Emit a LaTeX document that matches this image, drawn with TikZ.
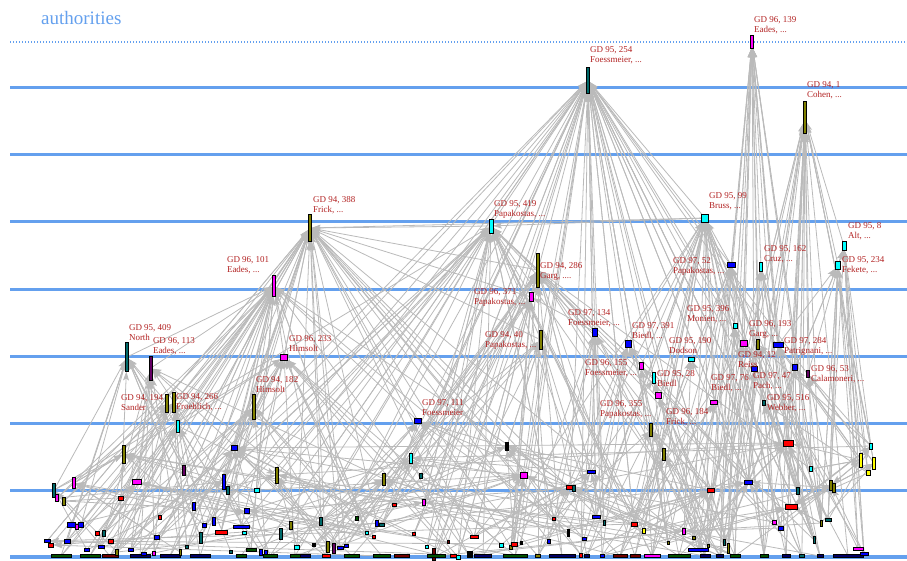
\documentclass[tikz,border=0pt]{standalone}
\usepackage{fontspec}
\setmainfont{Liberation Serif}
\usetikzlibrary{arrows.meta}
\pgfdeclarelayer{lines}
\pgfdeclarelayer{edges}
\pgfsetlayers{lines,edges,main}
\definecolor{mag}{RGB}{255,0,255}
\definecolor{cyn}{RGB}{0,255,255}
\definecolor{blu}{RGB}{0,0,255}
\definecolor{rd}{RGB}{255,0,0}
\definecolor{olv}{RGB}{128,128,0}
\definecolor{tel}{RGB}{0,105,105}
\definecolor{prp}{RGB}{100,0,100}
\definecolor{ylw}{RGB}{255,255,0}
\definecolor{dgr}{RGB}{0,80,0}
\definecolor{drd}{RGB}{110,0,0}
\definecolor{nav}{RGB}{0,0,100}
\definecolor{blk}{RGB}{0,0,0}
\definecolor{edgegray}{RGB}{186,186,186}
\definecolor{layerblue}{RGB}{100,160,238}
\definecolor{lblred}{RGB}{178,34,34}
\tikzset{
  nd/.style={draw=black,line width=0.6pt,inner sep=0pt,outer sep=0pt},
  edge/.style={draw=edgegray,line width=0.8pt,-{Stealth[length=9pt,width=6pt,inset=2pt]}},
  lbl/.style={anchor=north west,inner sep=0pt,outer sep=0pt,align=left,text=lblred,font=\fontsize{9}{10}\selectfont},
  layerline/.style={draw=layerblue,line width=3pt},
}
\newcommand\edgefan[5]{\foreach \k in {1,...,#3}{\pgfmathrandominteger{\rr}{#4}{#5}\draw[edge] (#2\rr) -- (#1);}}
\begin{document}
\begin{tikzpicture}[x=1pt,y=-1pt]
\useasboundingbox (0,0) rectangle (907,561);
\begin{pgfonlayer}{lines}
  \draw[layerline,line width=2pt,dash pattern=on 1.2pt off 1.8pt] (10,42) -- (907,42);
  \foreach \ly in {88,155,222,289,356,423,490} \draw[layerline] (10,\ly) -- (907,\ly);
  \draw[layerline,line width=4pt] (10,557) -- (907,557);
\end{pgfonlayer}
\node[anchor=base west,inner sep=0pt,text=layerblue,font=\fontsize{19}{22}\selectfont] (title) at (41,25) {authorities};

% labelled (authority) nodes
\foreach \nm/\px/\py/\pw/\ph/\pc in {
 a1/752/42/3/13/mag, a2/588/80/3/26/tel, a3/805/117/3/32/olv, a4/310/228/3/27/olv,
 a5/491/226/4/14/cyn, a6/705/218/7/8/cyn, a7/538/270/3/34/olv, a8/274/286/3/21/mag,
 a9/731/265/8/5/blu, a10/761/267/3/9/cyn, a11/844/246/4/9/cyn, a12/838/265/5/8/cyn,
 a13/531/297/4/9/mag, a14/595/332/5/8/blu, a15/541/340/3/19/olv, a16/628/344/6/7/blu,
 a17/735/326/4/5/cyn, a18/691/359/6/4/cyn, a19/758/344/3/10/olv, a20/744/343/7/6/mag,
 a21/778/345/10/5/blu, a22/127/357/3/29/tel, a23/151/368/3/24/prp, a24/284/357/7/6/mag,
 a25/641/366/4/7/mag, a26/654/378/3/11/cyn, a27/754/369/6/5/blu, a28/808/374/3/7/prp,
 a29/714/402/7/4/mag, a30/254/407/3/25/olv, a31/167/403/3/18/olv, a32/174/402/3/20/olv,
 a33/764/403/3/5/tel, a34/664/454/3/12/olv, a35/651/430/3/13/olv, a36/418/421/7/5/blu,
 x1/658/395/6/6/mag, x2/795/367/5/6/blu}
 \node[nd,fill=\pc,minimum width=\pw pt,minimum height=\ph pt] (\nm) at (\px,\py) {};

% other nodes, grouped by position
\foreach \px/\py/\pw/\ph/\pc [count=\i] in {
 47/541/6/3/blu, 51/545/5/4/rd, 54/490/3/14/tel, 57/498/3/7/mag, 61/556/20/3/dgr, 64/501/3/8/olv,
 67/541/6/4/blu, 71/525/8/5/blu, 74/483/3/11/mag, 77/527/3/5/mag, 81/525/5/5/blu, 87/550/5/3/blu,
 90/556/20/3/dgr, 97/533/4/4/rd, 101/547/6/3/blu, 104/533/3/6/tel, 110/556/16/3/drd, 111/541/5/4/rd,
 117/552/3/6/olv, 121/498/5/4/rd, 124/454/3/18/olv, 131/550/5/3/blu, 137/482/9/5/mag, 140/556/20/3/nav,
 144/554/5/3/blu, 154/553/3/4/mag, 157/537/5/4/blu, 160/517/3/4/rd, 170/556/20/3/nav, 178/426/3/12/cyn,
 180/552/2/6/olv, 184/470/3/10/prp, 187/547/3/3/tel, 194/506/3/8/blu}
 \node[nd,fill=\pc,minimum width=\pw pt,minimum height=\ph pt] (P\i) at (\px,\py) {};
\foreach \px/\py/\pw/\ph/\pc [count=\i] in {
 200/556/20/3/nav, 201/538/3/11/tel, 204/525/4/4/blu, 214/521/3/8/blu, 221/532/12/4/rd, 224/482/3/15/blu,
 228/490/3/8/tel, 231/552/3/3/tel, 234/448/6/5/blu, 241/527/16/3/blu, 241/556/10/3/dgr, 244/533/4/3/cyn,
 247/511/5/5/blu, 251/550/10/3/dgr, 257/490/5/4/cyn, 261/552/3/6/blu, 266/552/3/4/blu, 270/556/14/3/dgr,
 277/475/3/16/olv, 281/534/3/11/tel, 291/525/3/8/olv, 295/556/10/3/dgr, 297/547/5/4/cyn, 305/556/10/3/nav,
 314/545/3/3/blk, 321/521/3/8/tel, 326/556/8/3/rd, 328/547/3/11/olv, 334/548/3/10/prp, 340/548/6/3/blu,
 346/546/4/3/blu, 352/556/15/3/dgr, 357/518/3/4/dgr, 367/533/3/3/cyn, 374/537/3/3/rd, 377/523/3/6/blu,
 382/525/5/3/tel, 382/556/17/3/dgr, 384/479/3/12/olv, 394/505/4/3/rd}
 \node[nd,fill=\pc,minimum width=\pw pt,minimum height=\ph pt] (Q\i) at (\px,\py) {};
\foreach \px/\py/\pw/\ph/\pc [count=\i] in {
 402/556/15/3/drd, 411/458/3/10/cyn, 414/534/3/3/rd, 421/476/3/5/tel, 424/502/3/6/mag, 427/547/3/3/cyn,
 434/554/3/12/drd, 436/556/18/3/dgr, 448/542/2/3/drd, 453/556/6/3/rd, 458/557/4/4/cyn, 468/554/2/6/blk,
 471/554/2/6/blk, 474/537/8/3/rd, 483/556/17/3/nav, 501/545/4/4/cyn, 507/446/3/8/blk, 511/547/3/4/olv,
 514/544/6/4/rd, 515/556/24/3/dgr, 521/543/2/3/blk, 524/475/7/6/mag, 538/556/5/3/olv, 549/541/3/4/blu,
 554/519/3/3/rd, 562/556/26/3/nav, 568/533/2/7/blk, 570/487/7/4/rd, 574/488/3/6/tel, 581/555/3/4/rd,
 584/539/4/3/blu, 587/556/5/3/nav, 591/472/8/3/blu, 596/517/8/3/blu}
 \node[nd,fill=\pc,minimum width=\pw pt,minimum height=\ph pt] (S\i) at (\px,\py) {};
\foreach \px/\py/\pw/\ph/\pc [count=\i] in {
 602/556/4/3/blu, 604/523/2/5/tel, 620/556/14/3/drd, 634/524/6/4/rd, 635/556/10/3/drd, 644/531/3/5/ylw,
 652/556/16/3/mag, 668/543/2/3/olv, 679/556/22/3/dgr, 684/531/3/6/mag, 694/538/3/3/olv, 698/550/20/3/blu,
 705/556/10/3/nav, 708/546/2/3/olv, 711/490/7/4/rd, 720/556/7/3/nav, 724/542/2/6/tel, 728/548/2/10/olv,
 735/556/10/3/dgr, 748/482/8/4/blu}
 \node[nd,fill=\pc,minimum width=\pw pt,minimum height=\ph pt] (T\i) at (\px,\py) {};
\foreach \px/\py/\pw/\ph/\pc [count=\i] in {
 764/556/8/3/dgr, 774/522/4/4/mag, 781/528/5/4/blu, 786/556/8/3/nav, 788/443/10/6/rd, 791/507/12/5/rd,
 798/491/3/7/tel, 802/556/5/3/tel, 811/469/3/5/cyn, 814/540/2/7/tel, 820/556/6/3/nav, 821/523/2/6/olv,
 828/520/6/3/tel, 831/485/3/10/olv, 834/488/3/9/olv, 848/556/30/3/nav, 858/549/10/3/mag, 861/460/3/14/ylw,
 864/554/8/3/blu, 868/473/4/5/ylw, 871/446/3/6/cyn, 874/463/3/12/ylw}
 \node[nd,fill=\pc,minimum width=\pw pt,minimum height=\ph pt] (U\i) at (\px,\py) {};

% labels
\node[lbl] (la1) at (754,17) {GD 96, 139\\Eades, ...};
\node[lbl] (la2) at (590,47) {GD 95, 254\\Foessmeier, ...};
\node[lbl] (la3) at (807,82) {GD 94, 1\\Cohen, ...};
\node[lbl] (la4) at (313,197) {GD 94, 388\\Frick, ...};
\node[lbl] (la5) at (494,200.5) {GD 95, 419\\Papakostas, ...};
\node[lbl] (la6) at (709,193) {GD 95, 99\\Bruss, ...};
\node[lbl] (la7) at (540,263) {GD 94, 286\\Garg, ....};
\node[lbl] (la8) at (227,257) {GD 96, 101\\Eades, ...};
\node[lbl] (la9) at (673,258) {GD 97, 52\\Papakostas, ...};
\node[lbl] (la10) at (764,245.5) {GD 95, 162\\Cruz, ...};
\node[lbl] (la11) at (848,223) {GD 95, 8\\Alt, ...};
\node[lbl] (la12) at (842,257) {GD 95, 234\\Fekete, ...};
\node[lbl] (la13) at (474,289) {GD 96, 371\\Papakostas, ...};
\node[lbl] (la14) at (568,309.5) {GD 97, 134\\Foessmeier, ...};
\node[lbl] (la15) at (485,332) {GD 94, 40\\Papakostas, ...};
\node[lbl] (la16) at (632,323) {GD 97, 391\\Biedl, ...};
\node[lbl] (la17) at (687,305.5) {GD 95, 396\\Monien, ...};
\node[lbl] (la18) at (669,338) {GD 95, 190\\Dodson};
\node[lbl] (la19) at (749,321) {GD 96, 193\\Garg, ...};
\node[lbl] (la20) at (738,352) {GD 94, 12\\Reiss};
\node[lbl] (la21) at (784,338) {GD 97, 284\\Patrignani, ...};
\node[lbl] (la22) at (129,325) {GD 95, 409\\North};
\node[lbl] (la23) at (153,338) {GD 96, 113\\Eades, ...};
\node[lbl] (la24) at (289,336) {GD 96, 233\\Himsolt};
\node[lbl] (la25) at (585,360) {GD 96, 155\\Foessmeier, ...};
\node[lbl] (la26) at (657,371) {GD 95, 28\\Biedl};
\node[lbl] (la27) at (753,373) {GD 97, 47\\Pach, ...};
\node[lbl] (la28) at (811,365.5) {GD 96, 53\\Calamoneri, ...};
\node[lbl] (la29) at (711,374.5) {GD 97, 76\\Biedl, ...};
\node[lbl] (la30) at (256,376.5) {GD 94, 182\\Himsolt};
\node[lbl] (la31) at (121,395) {GD 94, 194\\Sander};
\node[lbl] (la32) at (176,394) {GD 94, 266\\Froehlich, ...};
\node[lbl] (la33) at (767,395) {GD 95, 516\\Webber, ...};
\node[lbl] (la34) at (666,409) {GD 96, 184\\Frick, ...};
\node[lbl] (la35) at (600,401) {GD 96, 355\\Papakostas, ...};
\node[lbl] (la36) at (422,399.5) {GD 97, 111\\Foessmeier};

\begin{pgfonlayer}{edges}
\pgfmathsetseed{2024}
% fans into the authority nodes
\edgefan{a1}{T}{7}{12}{20} \edgefan{a1}{U}{7}{1}{15}
\edgefan{a2}{P}{3}{20}{34} \edgefan{a2}{Q}{8}{10}{40} \edgefan{a2}{S}{14}{1}{34} \edgefan{a2}{T}{12}{1}{20} \edgefan{a2}{U}{10}{1}{22}
\edgefan{a3}{T}{6}{10}{20} \edgefan{a3}{U}{14}{1}{22}
\edgefan{a4}{P}{10}{1}{34} \edgefan{a4}{Q}{12}{1}{40} \edgefan{a4}{S}{7}{1}{34} \edgefan{a4}{T}{3}{1}{20}
\edgefan{a5}{P}{4}{1}{34} \edgefan{a5}{Q}{7}{1}{40} \edgefan{a5}{S}{10}{1}{34} \edgefan{a5}{T}{5}{1}{20} \edgefan{a5}{U}{2}{1}{22}
\edgefan{a6}{S}{5}{15}{34} \edgefan{a6}{T}{12}{1}{20} \edgefan{a6}{U}{7}{1}{15}
\edgefan{a7}{Q}{5}{20}{40} \edgefan{a7}{S}{10}{1}{34} \edgefan{a7}{T}{5}{1}{20} \edgefan{a7}{U}{2}{1}{22}
\edgefan{a8}{P}{12}{1}{34} \edgefan{a8}{Q}{10}{1}{40} \edgefan{a8}{S}{3}{1}{34}
\edgefan{a9}{T}{6}{1}{20} \edgefan{a9}{U}{5}{1}{15}
\edgefan{a10}{T}{3}{10}{20} \edgefan{a10}{U}{5}{1}{12}
\edgefan{a11}{U}{7}{13}{22}
\edgefan{a12}{U}{9}{12}{22} \edgefan{a12}{T}{2}{15}{20}
\edgefan{a13}{Q}{3}{25}{40} \edgefan{a13}{S}{5}{1}{34}
\edgefan{a14}{S}{5}{15}{34} \edgefan{a14}{T}{3}{1}{20}
\edgefan{a15}{S}{6}{1}{34} \edgefan{a15}{Q}{3}{25}{40}
\edgefan{a16}{S}{4}{20}{34} \edgefan{a16}{T}{3}{1}{20}
\edgefan{a17}{T}{3}{1}{20} \edgefan{a17}{U}{2}{1}{22}
\edgefan{a18}{T}{4}{1}{20}
\edgefan{a19}{T}{4}{10}{20} \edgefan{a19}{U}{3}{1}{22}
\edgefan{a20}{T}{3}{1}{20} \edgefan{a20}{U}{3}{1}{22}
\edgefan{a21}{U}{4}{1}{22}
\edgefan{a22}{P}{9}{1}{34} \edgefan{a22}{Q}{3}{1}{15}
\edgefan{a23}{P}{7}{1}{34} \edgefan{a23}{Q}{3}{1}{40}
\edgefan{a24}{P}{5}{15}{34} \edgefan{a24}{Q}{7}{1}{40} \edgefan{a24}{S}{4}{1}{20}
\edgefan{a25}{T}{4}{1}{20}
\edgefan{a26}{T}{3}{1}{20} \edgefan{a26}{S}{1}{1}{34}
\edgefan{a27}{T}{3}{12}{20}
\edgefan{a28}{U}{4}{1}{22}
\edgefan{a29}{T}{3}{1}{20}
\edgefan{a30}{P}{4}{15}{34} \edgefan{a30}{Q}{5}{1}{40}
\edgefan{a31}{P}{5}{1}{29}
\edgefan{a32}{P}{5}{1}{34} \edgefan{a32}{Q}{3}{1}{20}
\edgefan{a33}{U}{3}{1}{22}
\edgefan{a34}{T}{4}{1}{20}
\edgefan{a35}{T}{4}{1}{20} \edgefan{a35}{S}{2}{25}{34}
\edgefan{a36}{Q}{4}{20}{40} \edgefan{a36}{S}{4}{5}{34}
\edgefan{x1}{T}{3}{1}{20}
\edgefan{x2}{U}{3}{1}{22}
% fans into the lower nodes
\edgefan{P21}{P}{4}{1}{20} \edgefan{P21}{Q}{3}{1}{40} \edgefan{P21}{T}{2}{1}{20}
\edgefan{P23}{P}{3}{1}{20} \edgefan{P23}{Q}{2}{1}{40} \edgefan{P23}{S}{2}{1}{34}
\edgefan{Q9}{P}{3}{1}{34} \edgefan{Q9}{Q}{4}{10}{40} \edgefan{Q9}{S}{3}{1}{34} \edgefan{Q9}{U}{2}{1}{22}
\edgefan{Q19}{Q}{3}{20}{40} \edgefan{Q19}{P}{2}{1}{34} \edgefan{Q19}{T}{2}{1}{20}
\edgefan{Q39}{Q}{3}{1}{38} \edgefan{Q39}{S}{3}{1}{34}
\edgefan{S2}{Q}{4}{1}{40} \edgefan{S2}{S}{3}{5}{34} \edgefan{S2}{U}{2}{1}{22}
\edgefan{S17}{S}{3}{18}{34} \edgefan{S17}{T}{3}{1}{20} \edgefan{S17}{Q}{2}{1}{40}
\edgefan{S22}{S}{3}{1}{20} \edgefan{S22}{Q}{3}{1}{40} \edgefan{S22}{T}{3}{1}{20} \edgefan{S22}{P}{2}{1}{34}
\edgefan{S33}{S}{3}{1}{30} \edgefan{S33}{T}{3}{1}{20}
\edgefan{S28}{S}{3}{1}{26} \edgefan{S28}{T}{3}{1}{20}
\edgefan{T20}{T}{5}{1}{19} \edgefan{T20}{U}{3}{1}{22} \edgefan{T20}{P}{1}{1}{34}
\edgefan{T15}{T}{3}{1}{14} \edgefan{T15}{S}{3}{1}{34}
\edgefan{U5}{U}{5}{6}{22} \edgefan{U5}{T}{3}{1}{20} \edgefan{U5}{Q}{2}{1}{40}
\edgefan{U6}{U}{3}{7}{22} \edgefan{U6}{T}{3}{1}{20}
\edgefan{U18}{U}{3}{1}{17} \edgefan{U21}{U}{3}{1}{17} \edgefan{U22}{U}{3}{1}{17}
\edgefan{P30}{P}{4}{1}{29} \edgefan{P30}{Q}{3}{1}{40}
\edgefan{P3}{P}{3}{4}{34} \edgefan{P9}{P}{3}{10}{34} \edgefan{P9}{Q}{2}{1}{40}
\edgefan{Q6}{Q}{3}{7}{40} \edgefan{Q6}{P}{2}{1}{34}
\edgefan{U14}{U}{3}{15}{22} \edgefan{U14}{T}{2}{1}{20}
\edgefan{P1}{T}{1}{1}{20} \edgefan{P1}{S}{2}{1}{34} \edgefan{P2}{Q}{2}{1}{40}
\edgefan{Q13}{P}{2}{1}{34} \edgefan{Q13}{S}{2}{1}{34}
\edgefan{S5}{Q}{2}{1}{40} \edgefan{S5}{T}{2}{1}{20}
\edgefan{T10}{S}{2}{1}{34} \edgefan{T10}{U}{2}{1}{22}
% edges between the labelled nodes
\foreach \s/\t in {a6/a5, a6/a4, a6/a2, a9/a6, a17/a6, a19/a6, a9/a2, a10/a1, a21/a3, a20/a1,
  a21/a1, a12/a3, a11/a3, a14/a2, a16/a2, a7/a2, a15/a5, a13/a5, a7/a5, a24/a8, a24/a4,
  a22/a8, a23/a8, a30/a8, a30/a4, a32/a8, a31/a22, a32/a23, a13/a4, a15/a4, a7/a4, a5/a4,
  a8/a4, a36/a8, a36/a4, a18/a9, a16/a6, a25/a6, a26/a7, a14/a7, a25/a5, a29/a6, a28/a3,
  a33/a3, a27/a1, a19/a1, a20/a9, a21/a12, a28/a11, a15/a2, a14/a13, a34/a7, a35/a14,
  x1/a16, x2/a3, a26/a2, a9/a1, a17/a9, a12/a11}
  \draw[edge] (\s) -- (\t);
\end{pgfonlayer}
\end{tikzpicture}
\end{document}
